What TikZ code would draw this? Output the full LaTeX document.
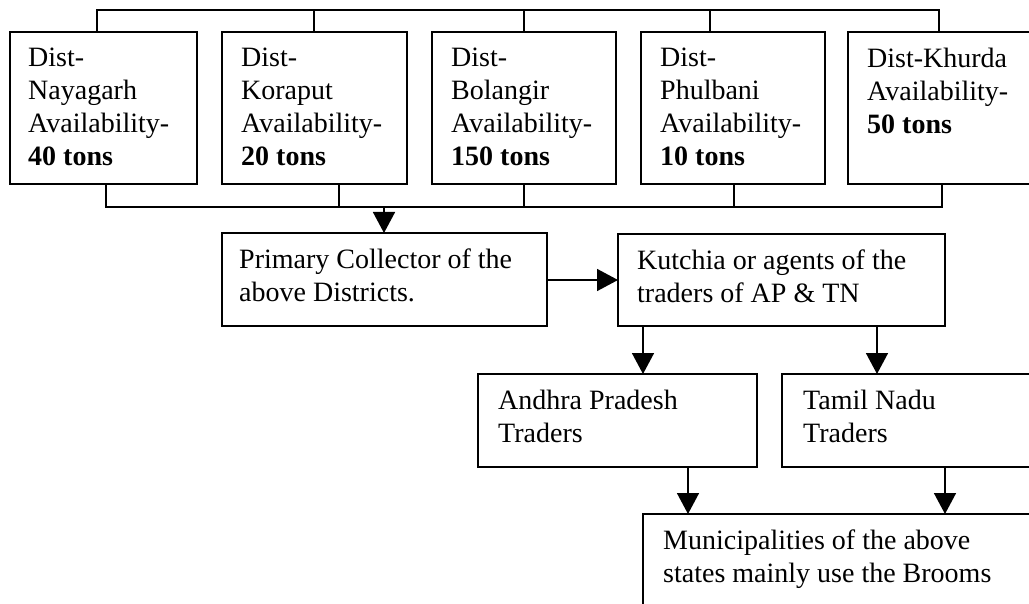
\documentclass[tikz,border=0pt]{standalone}
\usepackage{fontspec}
\setmainfont{Liberation Serif}
\usepackage{tikz}
\usetikzlibrary{calc}
\usetikzlibrary{arrows.meta}
\usetikzlibrary{positioning}

\begin{document}
\begin{tikzpicture}[
x=1pt,y=-1pt,
MyBoxes/.style={draw=black,line width=1.6pt,rectangle,inner sep=0pt,outer sep=0pt,anchor=north west,minimum height=#1},
MyBoxes/.default=93,
MyTexts/.style={anchor=north west,inner sep=0pt,align=left,font=\fontsize{28}{33}\selectfont},
Links/.style={draw=black,line width=1.6pt},
Arrows/.style={Links,-{Triangle[length=21pt, width=22pt]}}
]
\clip (0,0) rectangle (1029,604);

% District boxes
\node[MyBoxes=152,minimum width=187] (nay) at (10,32) {};
\node[MyBoxes=152,minimum width=185] (kor) at (222,32) {};
\node[MyBoxes=152,minimum width=184] (bol) at (432,32) {};
\node[MyBoxes=152,minimum width=184] (phu) at (641,32) {};
\node[MyBoxes=152,minimum width=186] (khu) at (848,32) {};

\node[MyTexts] (nay-t) at ([shift={(18,16)}]nay.north west) {Dist-\\Nayagarh\\Availability-\\\textbf{40 tons}};
\node[MyTexts] (kor-t) at ([shift={(19,16)}]kor.north west) {Dist-\\Koraput\\Availability-\\\textbf{20 tons}};
\node[MyTexts] (bol-t) at ([shift={(19,16)}]bol.north west) {Dist-\\Bolangir\\Availability-\\\textbf{150 tons}};
\node[MyTexts] (phu-t) at ([shift={(19,16)}]phu.north west) {Dist-\\Phulbani\\Availability-\\\textbf{10 tons}};
\node[MyTexts] (khu-t) at ([shift={(19,16)}]khu.north west) {Dist-Khurda\\Availability-\\\textbf{50 tons}};

% Chain of trade
\node[MyBoxes,minimum width=325] (prim) at (222,233) {};
\node[MyBoxes=92,minimum width=327] (kut) at (618,234) {};
\node[MyBoxes,minimum width=279] (andh) at (478,374) {};
\node[MyBoxes,minimum width=260] (tam) at (782,374) {};
\node[MyBoxes=110,minimum width=400] (muni) at (643,514) {};

\node[MyTexts] (prim-t) at ([shift={(17,16)}]prim.north west) {Primary Collector of the\\above Districts.};
\node[MyTexts] (kut-t) at ([shift={(19,16)}]kut.north west) {Kutchia or agents of the\\traders of AP \& TN};
\node[MyTexts] (andh-t) at ([shift={(20,16)}]andh.north west) {Andhra Pradesh\\Traders};
\node[MyTexts] (tam-t) at ([shift={(21,16)}]tam.north west) {Tamil Nadu\\Traders};
\node[MyTexts] (muni-t) at ([shift={(20,16)}]muni.north west) {Municipalities of the above\\states mainly use the Brooms};

% Line above the districts
\coordinate (top) at (0,10);
\coordinate (nayT) at ([shift={(-6.5,0)}]nay.north);
\coordinate (korT) at ([shift={(-0.5,0)}]kor.north);
\coordinate (phuT) at ([shift={(-23,0)}]phu.north);
\coordinate (khuT) at ([shift={(-2,0)}]khu.north);
\draw[Links] (nayT) |- (top -| khuT) -- (khuT);
\foreach \c in {korT,bol.north,phuT}
  \draw[Links] (\c) -- (\c |- top);

% Line below the districts
\coordinate (bot) at (0,207);
\coordinate (nayB) at ([shift={(2.5,0)}]nay.south);
\coordinate (korB) at ([shift={(24.5,0)}]kor.south);
\coordinate (phuB) at ([shift={(1,0)}]phu.south);
\coordinate (khuB) at ([shift={(1,0)}]khu.south);
\draw[Links] (nayB) |- (bot -| khuB) -- (khuB);
\foreach \c in {korB,bol.south,phuB}
  \draw[Links] (\c) -- (\c |- bot);

\coordinate (primT) at ([shift={(-0.5,0)}]prim.north);
\coordinate (primR) at ([shift={(0,0.5)}]prim.east);
\draw[Arrows] (primT |- bot) -- (primT);
\draw[Arrows] (primR) -- (primR -| kut.west);

\coordinate (kutL) at ([shift={(25,0)}]kut.south west);
\coordinate (kutR) at ([shift={(259,0)}]kut.south west);
\draw[Arrows] (kutL) -- (kutL |- andh.north);
\draw[Arrows] (kutR) -- (kutR |- tam.north);

\coordinate (andhB) at ([shift={(210,0)}]andh.south west);
\coordinate (tamB) at ([shift={(163,0)}]tam.south west);
\draw[Arrows] (andhB) -- (andhB |- muni.north);
\draw[Arrows] (tamB) -- (tamB |- muni.north);

\end{tikzpicture}
\end{document}
